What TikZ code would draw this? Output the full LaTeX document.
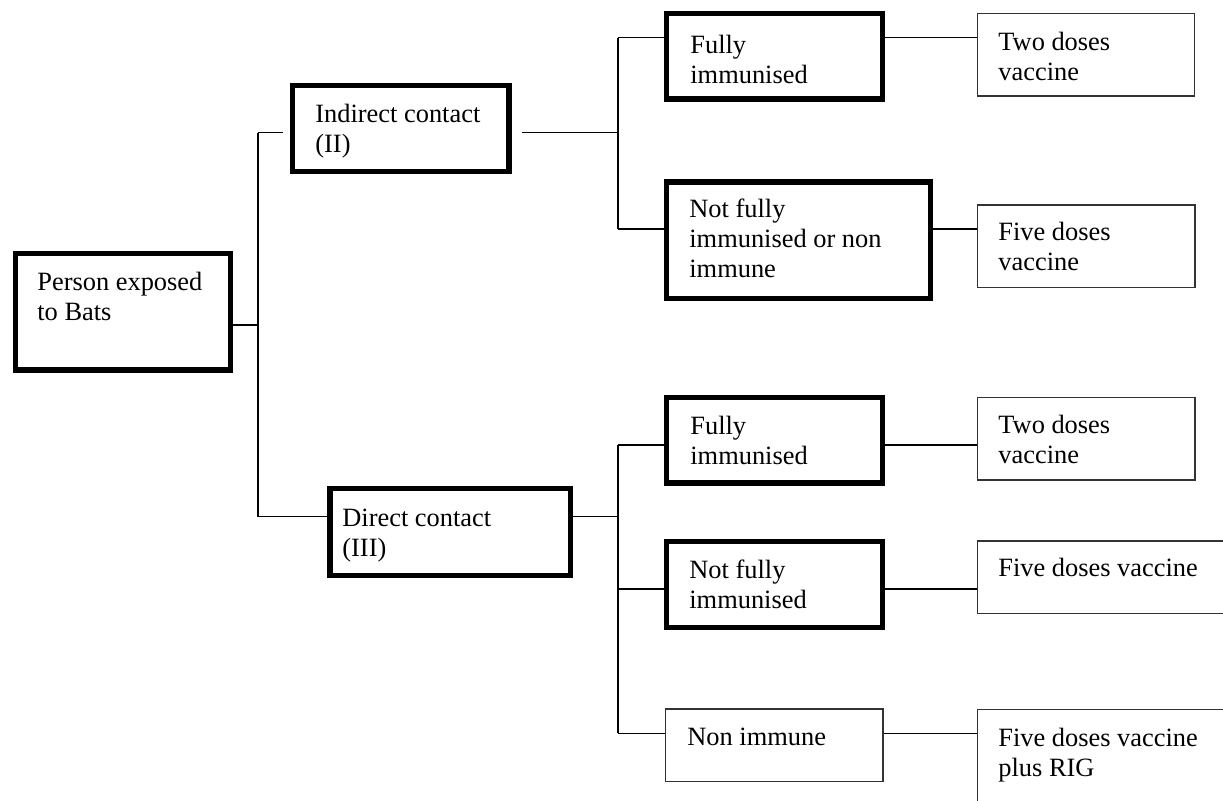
\documentclass[tikz,border=0pt]{standalone}
\usepackage{fontspec}
\setmainfont{Liberation Serif}
\begin{document}
\begin{tikzpicture}[x=0.5pt,y=-0.5pt,
  every node/.style={font=\fontsize{13.2}{15}\selectfont},
  thickbox/.style={draw=black, line width=2.75pt, rectangle, inner sep=0pt},
  thinbox/.style={draw=black!80, line width=0.65pt, rectangle, inner sep=0pt},
  txt/.style={anchor=base west, inner sep=0pt, text=black},
  conn/.style={draw=black, line width=0.65pt}]
\useasboundingbox (0,0) rectangle (1223,800);
\clip (0,0) rectangle (1223,800);
\newcommand{\bxnode}[6]{%
  \node[#2, minimum width={(#5-#3)*0.5pt}, minimum height={(#6-#4)*0.5pt}] (#1) at ({(#3+#5)/2},{(#4+#6)/2}) {};}
\newcommand{\tx}[1]{\parbox[t]{300pt}{\raggedright #1}}
% boxes
\bxnode{P}{thickbox}{15.5}{253.5}{230.5}{370}
\bxnode{I}{thickbox}{292.7}{85.5}{509}{171.3}
\bxnode{F1}{thickbox}{666.4}{13.5}{882.5}{99}
\bxnode{T1}{thinbox}{977.7}{13.3}{1194.8}{96}
\bxnode{N1}{thickbox}{666.4}{182}{930.3}{298.3}
\bxnode{V1}{thinbox}{977.7}{205}{1195}{287.7}
\bxnode{D}{thickbox}{330}{488.7}{570.5}{575.5}
\bxnode{F2}{thickbox}{666.4}{397.7}{882.5}{483}
\bxnode{T2}{thinbox}{977.7}{397.7}{1195}{480}
\bxnode{N2}{thickbox}{666.4}{541.7}{882.5}{627.3}
\bxnode{V2}{thinbox}{977.7}{541}{1260}{613.3}
\bxnode{NI}{thinbox}{665.6}{709}{882.9}{781.7}
\bxnode{V3}{thinbox}{977.7}{709.3}{1260}{850}
% texts
\node[txt] (tP) at (37,290.5) {\tx{Person exposed\\to Bats}};
\node[txt] (tI) at (315,122) {\tx{Indirect contact\\(II)}};
\node[txt] (tF1) at (690,53) {\tx{Fully\\immunised}};
\node[txt] (tT1) at (998,50) {\tx{Two doses\\vaccine}};
\node[txt] (tN1) at (689,217.5) {\tx{Not fully\\immunised or non\\immune}};
\node[txt] (tV1) at (998,240.5) {\tx{Five doses\\vaccine}};
\node[txt] (tD) at (342,526) {\tx{Direct contact\\(III)}};
\node[txt] (tF2) at (690,434) {\tx{Fully\\immunised}};
\node[txt] (tT2) at (998,433) {\tx{Two doses\\vaccine}};
\node[txt] (tN2) at (689,578) {\tx{Not fully\\immunised}};
\node[txt] (tV2) at (998,576.5) {\tx{Five doses vaccine}};
\node[txt] (tNI) at (687,745) {\tx{Non immune}};
\node[txt] (tV3) at (998,746) {\tx{Five doses vaccine\\plus RIG}};
% junctions
\coordinate (j0) at (258,325);
\coordinate (jI) at (258,132.7);
\coordinate (jD) at (258,516.7);
\coordinate (kI) at (618,132.7);
\coordinate (k1) at (618,37.7);
\coordinate (k2) at (618,229);
\coordinate (kD) at (618,516.7);
\coordinate (k3) at (618,445);
\coordinate (k4) at (618,589);
\coordinate (k5) at (618,733.3);
% connectors
\draw[conn] (P.east |- j0) -- (j0);
\draw[conn] (jI) -- (jD);
\draw[conn, shorten >=3.35pt] (jI) -- (I.west |- jI);
\draw[conn] (jD) -- (D.west |- jD);
\draw[conn, shorten <=5pt] (I.east |- kI) -- (kI);
\draw[conn] (k1) -- (k2);
\draw[conn] (k1) -- (F1.west |- k1);
\draw[conn] (F1.east |- k1) -- (T1.west |- k1);
\draw[conn] (k2) -- (N1.west |- k2);
\draw[conn] (N1.east |- k2) -- (V1.west |- k2);
\draw[conn] (D.east |- kD) -- (kD);
\draw[conn] (k3) -- (k5);
\draw[conn] (k3) -- (F2.west |- k3);
\draw[conn] (F2.east |- k3) -- (T2.west |- k3);
\draw[conn] (k4) -- (N2.west |- k4);
\draw[conn] (N2.east |- k4) -- (V2.west |- k4);
\draw[conn] (k5) -- (NI.west |- k5);
\draw[conn] (NI.east |- k5) -- (V3.west |- k5);
\end{tikzpicture}
\end{document}
